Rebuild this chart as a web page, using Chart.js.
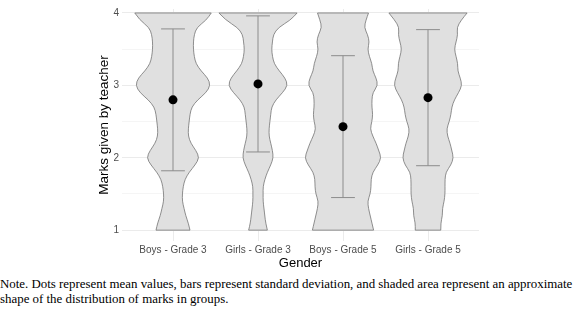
<!DOCTYPE html>
<html>
<head>
<meta charset="utf-8">
<script src="https://cdn.jsdelivr.net/npm/chart.js@4"></script>
<style>
  body { margin: 0; background: #fff; }
  #wrap { width: 577px; height: 309px; }
  #note { font-family: 'Liberation Serif', 'Times New Roman', serif; font-size: 12.9px; line-height: 15px; color: #000; margin-top: 5px; white-space: nowrap; }
</style>
</head>
<body>
<div id="wrap">
  <canvas id="myChart" width="577" height="272"></canvas>
  <div id="note">Note. Dots represent mean values, bars represent standard deviation, and shaded area represent an approximate<br>shape of the distribution of marks in groups.</div>
</div>
<script>

var groups = ['Boys - Grade 3', 'Girls - Grade 3', 'Boys - Grade 5', 'Girls - Grade 5'];
var means = [2.80, 3.02, 2.43, 2.83];
var sds = [0.98, 0.94, 0.98, 0.94];

// marks grid for the violin outlines (1.0 .. 4.0 step 0.1)
var markLevels = [1.0, 1.1, 1.2, 1.3, 1.4, 1.5, 1.6, 1.7, 1.8, 1.9, 2.0, 2.1, 2.2, 2.3, 2.4, 2.5,
    2.6, 2.7, 2.8, 2.9, 3.0, 3.1, 3.2, 3.3, 3.4, 3.5, 3.6, 3.7, 3.8, 3.9, 4.0];

// half width of each violin at those levels (in category units)
var boysG3 = [0.20, 0.18, 0.15, 0.13, 0.11, 0.11, 0.12, 0.14, 0.19, 0.26, 0.31, 0.27, 0.21, 0.18, 0.18, 0.19,
    0.20, 0.22, 0.29, 0.39, 0.44, 0.41, 0.33, 0.27, 0.25, 0.24, 0.24, 0.25, 0.28, 0.39, 0.45];
var girlsG3 = [0.11, 0.09, 0.08, 0.07, 0.06, 0.06, 0.06, 0.08, 0.11, 0.15, 0.18, 0.17, 0.15, 0.13, 0.13, 0.14,
    0.15, 0.16, 0.21, 0.29, 0.35, 0.32, 0.25, 0.19, 0.17, 0.16, 0.17, 0.18, 0.24, 0.38, 0.46];
var boysG5 = [0.36, 0.34, 0.32, 0.30, 0.29, 0.32, 0.33, 0.33, 0.35, 0.41, 0.45, 0.42, 0.39, 0.35, 0.32, 0.34,
    0.35, 0.34, 0.34, 0.35, 0.41, 0.39, 0.35, 0.34, 0.31, 0.29, 0.31, 0.29, 0.25, 0.27, 0.30];
var girlsG5 = [0.15, 0.15, 0.17, 0.17, 0.19, 0.20, 0.20, 0.20, 0.21, 0.27, 0.30, 0.28, 0.26, 0.23, 0.22, 0.25,
    0.27, 0.28, 0.31, 0.36, 0.40, 0.38, 0.35, 0.35, 0.33, 0.31, 0.33, 0.35, 0.34, 0.39, 0.46];
var violinWidths = [boysG3, girlsG3, boysG5, girlsG5];

var yTicks = [1, 1.5, 2, 2.5, 3, 3.5, 4];
var capHalf = 0.14;

// smooth line through points using midpoints as anchors
function smoothPath(ctx, pts, move) {
    if (move) ctx.moveTo(pts[0][0], pts[0][1]);
    else ctx.lineTo(pts[0][0], pts[0][1]);
    for (var i = 1; i < pts.length - 1; i++) {
        var mx = (pts[i][0] + pts[i + 1][0]) / 2;
        var my = (pts[i][1] + pts[i + 1][1]) / 2;
        ctx.quadraticCurveTo(pts[i][0], pts[i][1], mx, my);
    }
    ctx.lineTo(pts[pts.length - 1][0], pts[pts.length - 1][1]);
}

var violinPlugin = {
    id: 'violins',
    beforeDatasetsDraw: function (chart) {
        var ctx = chart.ctx;
        var xs = chart.scales.x, ys = chart.scales.y;
        ctx.save();
        violinWidths.forEach(function (w, g) {
            var c = g + 1;
            var right = markLevels.map(function (m, i) { return [xs.getPixelForValue(c + w[i]), ys.getPixelForValue(m)]; });
            var left = markLevels.map(function (m, i) { return [xs.getPixelForValue(c - w[i]), ys.getPixelForValue(m)]; }).reverse();
            ctx.beginPath();
            smoothPath(ctx, right, true);
            smoothPath(ctx, left, false);
            ctx.closePath();
            ctx.fillStyle = '#e0e0e0';
            ctx.fill();
            ctx.strokeStyle = '#737373';
            ctx.lineWidth = 0.8;
            ctx.stroke();
        });
        // error bars
        ctx.strokeStyle = '#8c8c8c';
        ctx.lineWidth = 1;
        means.forEach(function (m, g) {
            var c = g + 1;
            var top = ys.getPixelForValue(m + sds[g]);
            var bot = ys.getPixelForValue(m - sds[g]);
            var x0 = xs.getPixelForValue(c - capHalf), x1 = xs.getPixelForValue(c + capHalf), xc = xs.getPixelForValue(c);
            ctx.beginPath();
            ctx.moveTo(x0, top); ctx.lineTo(x1, top);
            ctx.moveTo(x0, bot); ctx.lineTo(x1, bot);
            ctx.moveTo(xc, top); ctx.lineTo(xc, bot);
            ctx.stroke();
        });
        ctx.restore();
    }
};

var chartId = document.getElementById('myChart').getContext('2d');

Chart.defaults.font.family = "'Liberation Sans', Arial, sans-serif";

var myChart = new Chart(chartId, {
    type: 'scatter',
    data: {
        datasets: [{
            label: 'Mean',
            data: means.map(function (m, i) { return { x: i + 1, y: m }; }),
            pointRadius: 4.5,
            pointBackgroundColor: '#000',
            pointBorderColor: '#000',
            pointBorderWidth: 0
        }]
    },
    options: {
        responsive: false,
        animation: false,
        layout: { padding: { left: 96, right: 98, top: 0, bottom: 1 } },
        plugins: {
            legend: { display: false },
            tooltip: { enabled: false }
        },
        scales: {
            x: {
                type: 'linear',
                min: 0.4,
                max: 4.6,
                afterBuildTicks: function (scale) {
                    scale.ticks = [1, 2, 3, 4].map(function (v) { return { value: v }; });
                },
                afterFit: function (scale) { scale.height = 30; },
                ticks: {
                    callback: function (v) { return groups[v - 1]; },
                    color: '#4d4d4d',
                    font: { size: 10 },
                    padding: 3,
                    maxRotation: 0,
                    autoSkip: false
                },
                grid: { color: '#ebebeb', drawTicks: false },
                border: { display: false },
                title: { display: true, text: 'Gender', color: '#000', font: { size: 13 }, padding: 0 }
            },
            y: {
                min: 0.85,
                max: 4.055,
                afterBuildTicks: function (scale) {
                    scale.ticks = yTicks.map(function (v) { return { value: v }; });
                },
                afterFit: function (scale) { scale.width = 26; },
                ticks: {
                    callback: function (v) { return Number.isInteger(v) ? String(v) : ''; },
                    color: '#4d4d4d',
                    font: { size: 10 },
                    padding: 3
                },
                grid: {
                    color: function (c) { return Number.isInteger(c.tick.value) ? '#ebebeb' : '#f5f5f5'; },
                    drawTicks: false
                },
                border: { display: false },
                title: { display: true, text: 'Marks given by teacher', color: '#000', font: { size: 13.5 }, padding: 0 }
            }
        }
    },
    plugins: [violinPlugin]
});
</script>
</body>
</html>
